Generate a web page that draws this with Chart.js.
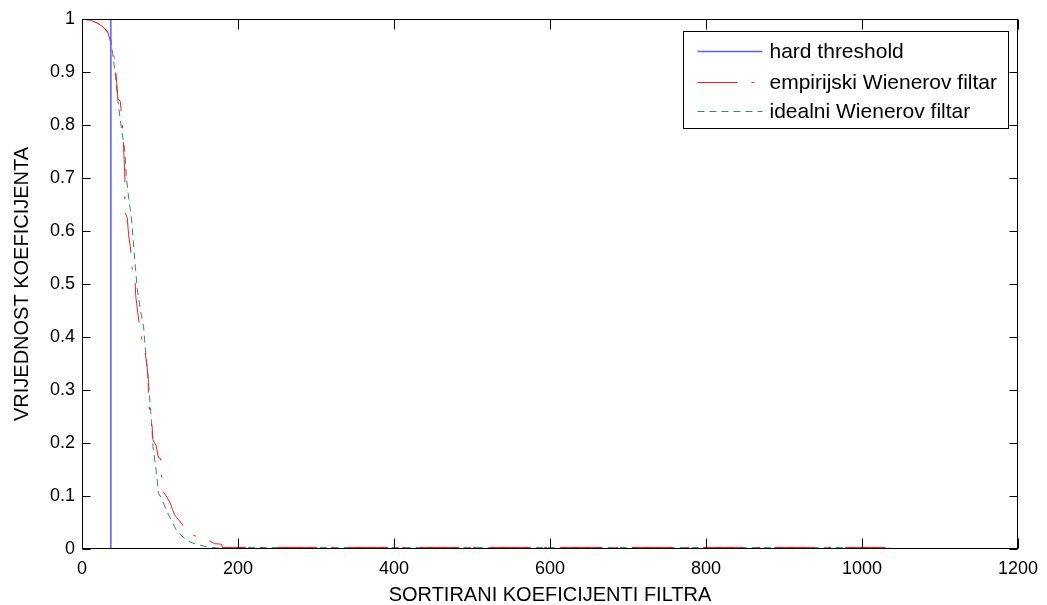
<!DOCTYPE html>
<html>
<head>
<meta charset="utf-8">
<script src="https://cdn.jsdelivr.net/npm/chart.js@4.4.1/dist/chart.umd.min.js"></script>
<style>
  body { margin: 0; background: #fff; }
</style>
</head>
<body>
<canvas id="c" width="1047" height="605"></canvas>
<script>
// hard threshold: ones up to the cut, zeros after
const hardX = [0, 37, 37, 1064];
const hardY = [1, 1, 0, 0];

// empirijski Wienerov filtar
const empX = [0, 10, 20, 27, 33, 37, 41, 44, 46, 49, 51, 53, 54, 55, 55, 55.5, 58, 60, 62, 64, 66, 68, 69, 72, 75, 77, 80, 83, 85, 85, 88, 90, 91, 95, 98, 101, 102, 103, 104, 108, 113, 116, 119, 121, 124, 130, 136, 143, 150, 160, 165, 170, 179, 180, 300, 500, 700, 900, 1040, 1050];
const empY = [1, 0.998, 0.992, 0.985, 0.975, 0.955, 0.93, 0.89, 0.85, 0.845, 0.815, 0.77, 0.735, 0.70, 0.66, 0.634, 0.625, 0.589, 0.57, 0.535, 0.508, 0.505, 0.476, 0.44, 0.41, 0.394, 0.38, 0.35, 0.32, 0.285, 0.243, 0.23, 0.206, 0.195, 0.172, 0.171, 0.14, 0.115, 0.108, 0.1, 0.087, 0.075, 0.064, 0.06, 0.055, 0.043, 0.034, 0.026, 0.022, 0.017, 0.014, 0.010, 0.009, 0.003, 0.003, 0.003, 0.003, 0.003, 0.003, 0];

// idealni Wienerov filtar
const idealX = [0, 10, 20, 27, 33, 37, 40, 43, 46, 49, 52, 55, 57, 60, 62, 64, 66, 68, 71, 75, 79, 82, 85, 87, 89, 91, 94, 96, 98, 102, 108, 114, 121, 127, 134, 142, 151, 160, 173, 200, 400, 600, 800, 1000, 1064];
const idealY = [1, 0.998, 0.992, 0.985, 0.975, 0.96, 0.928, 0.89, 0.847, 0.81, 0.78, 0.75, 0.70, 0.66, 0.64, 0.615, 0.575, 0.54, 0.489, 0.45, 0.419, 0.362, 0.32, 0.28, 0.243, 0.193, 0.16, 0.136, 0.106, 0.095, 0.074, 0.055, 0.036, 0.026, 0.017, 0.011, 0.0075, 0.004, 0.002, 0.003, 0.003, 0.003, 0.003, 0.003, 0];

const xTicks = [0, 200, 400, 600, 800, 1000, 1200];
const yTicks = [0, 0.1, 0.2, 0.3, 0.4, 0.5, 0.6, 0.7, 0.8, 0.9, 1];

function pts(xs, ys) {
  return xs.map((v, i) => ({ x: v, y: ys[i] }));
}

const font = 'Liberation Sans, Arial, sans-serif';

// box, inward ticks and the boxed legend, MATLAB style
const frame = {
  id: 'frame',
  afterDatasetsDraw(chart) {
    const { ctx, chartArea: a, scales: { x, y } } = chart;
    ctx.save();
    ctx.strokeStyle = '#000';
    ctx.lineWidth = 1;
    const L = Math.round(a.left) + 0.5, R = Math.round(a.right) - 0.5;
    const T = Math.round(a.top) + 0.5, B = Math.round(a.bottom) - 0.5;
    ctx.strokeRect(L, T, R - L, B - T);
    ctx.beginPath();
    x.ticks.forEach(t => {
      const px = Math.round(x.getPixelForValue(t.value)) + 0.5;
      ctx.moveTo(px, B); ctx.lineTo(px, B - 10);
      ctx.moveTo(px, T); ctx.lineTo(px, T + 10);
    });
    y.ticks.forEach(t => {
      const py = Math.round(y.getPixelForValue(t.value)) + 0.5;
      ctx.moveTo(L, py); ctx.lineTo(L + 8, py);
      ctx.moveTo(R, py); ctx.lineTo(R - 8, py);
    });
    ctx.stroke();

    // legend
    const bw = 325, bh = 97;
    const bx = Math.round(a.right) - 10 - bw + 0.5, by = Math.round(a.top) + 12 + 0.5;
    ctx.fillStyle = '#fff';
    ctx.fillRect(bx, by, bw, bh);
    ctx.strokeRect(bx, by, bw, bh);
    const rows = [19, 50.5, 79];
    ctx.font = '21px ' + font;
    ctx.textBaseline = 'middle';
    chart.data.datasets.forEach((ds, i) => {
      const ry = Math.round(by + rows[i]) + 0.5;
      ctx.strokeStyle = ds.borderColor;
      ctx.lineWidth = ds.borderWidth;
      ctx.setLineDash(ds.borderDash || []);
      ctx.beginPath();
      ctx.moveTo(bx + 14, ry);
      ctx.lineTo(bx + 79, ry);
      ctx.stroke();
      ctx.setLineDash([]);
      ctx.fillStyle = '#000';
      ctx.fillText(ds.label, bx + 86, ry + 1);
    });
    ctx.restore();
  }
};

new Chart(document.getElementById('c'), {
  type: 'line',
  data: {
    datasets: [
      { label: 'hard threshold', data: pts(hardX, hardY), borderColor: '#5a5aff', borderWidth: 1.5 },
      { label: 'empirijski Wienerov filtar', data: pts(empX, empY), borderColor: '#ff1a1a', borderWidth: 1, borderDash: [40, 14, 3, 14] },
      { label: 'idealni Wienerov filtar', data: pts(idealX, idealY), borderColor: '#348c64', borderWidth: 1, borderDash: [7, 5] }
    ]
  },
  options: {
    responsive: false,
    animation: false,
    parsing: false,
    elements: { point: { radius: 0 }, line: { tension: 0 } },
    layout: { padding: { top: 19, right: 29, left: 0, bottom: 0 } },
    plugins: { legend: { display: false }, tooltip: { enabled: false } },
    scales: {
      x: {
        type: 'linear', min: 0, max: 1200,
        afterBuildTicks: s => { s.ticks = xTicks.map(v => ({ value: v })); },
        afterFit: s => { s.height = 56; },
        grid: { display: false, drawTicks: false },
        border: { display: false },
        ticks: { color: '#000', font: { family: font, size: 18 }, padding: 9, maxRotation: 0, callback: v => String(v) },
        title: { display: true, text: 'SORTIRANI KOEFICIJENTI FILTRA', color: '#000', font: { family: font, size: 20 }, padding: { top: 0, bottom: -2 } }
      },
      y: {
        type: 'linear', min: 0, max: 1,
        afterBuildTicks: s => { s.ticks = yTicks.map(v => ({ value: v })); },
        afterFit: s => { s.width = 82; },
        grid: { display: false, drawTicks: false },
        border: { display: false },
        ticks: { color: '#000', font: { family: font, size: 18 }, padding: 7, callback: v => String(Number(v.toFixed(1))) },
        title: { display: true, text: 'VRIJEDNOST KOEFICIJENTA', color: '#000', font: { family: font, size: 20 }, padding: { top: 10, bottom: 0 } }
      }
    }
  },
  plugins: [frame]
});
</script>
</body>
</html>
